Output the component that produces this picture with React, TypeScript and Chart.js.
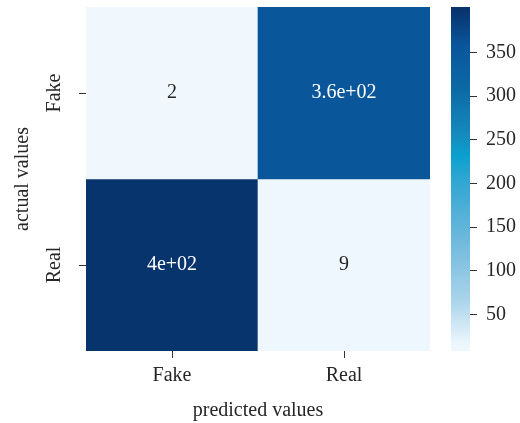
import React, { useEffect, useRef } from "react";
import { Chart, registerables } from "chart.js";

Chart.register(...registerables);

// ---- data ----
const PREDICTED = ["Fake", "Real"]; // columns (x)
const ACTUAL = ["Fake", "Real"]; // rows (y), top to bottom
const ROW_FAKE = [2, 357];
const ROW_REAL = [398, 9];
const MATRIX = [ROW_FAKE, ROW_REAL];
const CBAR_TICKS = [50, 100, 150, 200, 250, 300, 350];
const CBAR_RANGE = [8, 402];
const X_TITLE = "predicted values";
const Y_TITLE = "actual values";

// ---- colour map ----
const CMAP_STOPS: [number, string][] = [
  [0.0, "#F0F8FE"],
  [0.04, "#EBF5FC"],
  [0.16, "#AAD4EA"],
  [0.34, "#6DB8DC"],
  [0.52, "#2BA5D2"],
  [0.58, "#0AA0CF"],
  [0.64, "#168BBD"],
  [0.77, "#0B6AA6"],
  [0.9, "#0A559B"],
  [1.0, "#08346E"],
];

const hexToRgb = (h: string) => [
  parseInt(h.slice(1, 3), 16),
  parseInt(h.slice(3, 5), 16),
  parseInt(h.slice(5, 7), 16),
];

function cmap(t: number): number[] {
  t = Math.max(0, Math.min(1, t));
  for (let i = 1; i < CMAP_STOPS.length; i++) {
    const [t1, c1] = CMAP_STOPS[i];
    const [t0, c0] = CMAP_STOPS[i - 1];
    if (t <= t1) {
      const f = (t - t0) / (t1 - t0);
      const a = hexToRgb(c0);
      const b = hexToRgb(c1);
      return a.map((v, k) => Math.round(v + (b[k] - v) * f));
    }
  }
  return hexToRgb(CMAP_STOPS[CMAP_STOPS.length - 1][1]);
}
const rgbStr = (c: number[]) => `rgb(${c[0]},${c[1]},${c[2]})`;

function luminance(c: number[]) {
  const lin = c.map((v) => {
    const s = v / 255;
    return s <= 0.03928 ? s / 12.92 : Math.pow((s + 0.055) / 1.055, 2.4);
  });
  return 0.2126 * lin[0] + 0.7152 * lin[1] + 0.0722 * lin[2];
}

function fmt2g(v: number): string {
  if (v === 0) return "0";
  const ex = v.toExponential(1);
  const exp = Number(ex.split("e")[1]);
  if (exp < -4 || exp >= 2) {
    let [m, e] = ex.split("e");
    if (m.includes(".")) m = m.replace(/\.?0+$/, "");
    const sign = e[0] === "-" ? "-" : "+";
    const digits = e.replace(/[+-]/, "").padStart(2, "0");
    return `${m}e${sign}${digits}`;
  }
  let s = v.toFixed(Math.max(0, 1 - exp));
  if (s.includes(".")) s = s.replace(/\.?0+$/, "");
  return s;
}

const FONT = "'Liberation Serif', 'DejaVu Serif', serif";
const TEXT = "#262626";

export default function App() {
  const heatRef = useRef<HTMLCanvasElement>(null);
  const cbarRef = useRef<HTMLCanvasElement>(null);

  useEffect(() => {
    const flat = MATRIX.flat();
    const vmin = Math.min(...flat);
    const vmax = Math.max(...flat);
    const nRows = ACTUAL.length;
    const colorOf = (v: number) => cmap((v - vmin) / (vmax - vmin));

    const datasets = MATRIX.map((row, i) => {
      const y0 = nRows - 1 - i;
      return {
        label: ACTUAL[i],
        data: row.map(() => [y0, y0 + 1]),
        values: row,
        backgroundColor: row.map((v) => rgbStr(colorOf(v))),
        borderWidth: 0,
        grouped: false,
        categoryPercentage: 1,
        barPercentage: 1,
      };
    });

    const annotate = {
      id: "annotate",
      afterDatasetsDraw(chart: any) {
        const ctx = chart.ctx;
        ctx.save();
        ctx.font = `20px ${FONT}`;
        ctx.textAlign = "center";
        ctx.textBaseline = "middle";
        chart.data.datasets.forEach((ds: any, di: number) => {
          const meta = chart.getDatasetMeta(di);
          meta.data.forEach((el: any, j: number) => {
            const v = ds.values[j];
            const c = colorOf(v);
            ctx.fillStyle = luminance(c) > 0.408 ? TEXT : "#ffffff";
            ctx.fillText(fmt2g(v), el.x, (el.y + el.base) / 2);
          });
        });
        ctx.restore();
      },
    };

    const heat = new Chart(heatRef.current!, {
      type: "bar",
      data: { labels: PREDICTED, datasets: datasets as any },
      plugins: [annotate],
      options: {
        responsive: false,
        animation: false,
        events: [],
        layout: { padding: { top: 7, right: 15, left: 0, bottom: 0 } },
        plugins: { legend: { display: false }, tooltip: { enabled: false } },
        scales: {
          x: {
            type: "category",
            offset: true,
            border: { display: false },
            grid: {
              display: true,
              drawOnChartArea: false,
              drawTicks: true,
              tickLength: 7,
              offset: false,
              color: "#333333",
            },
            ticks: {
              color: TEXT,
              font: { family: FONT, size: 20 },
              padding: 6,
              maxRotation: 0,
              minRotation: 0,
            },
            title: {
              display: true,
              text: X_TITLE,
              color: TEXT,
              font: { family: FONT, size: 20 },
              padding: { top: 0, bottom: 0 },
            },
            afterFit(scale: any) {
              scale.height = 72;
              scale.paddingLeft = 0;
              scale.paddingRight = 0;
            },
          },
          y: {
            type: "linear",
            min: 0,
            max: nRows,
            border: { display: false },
            grid: {
              display: true,
              drawOnChartArea: false,
              drawTicks: true,
              tickLength: 7,
              color: "#333333",
            },
            afterBuildTicks(scale: any) {
              scale.ticks = ACTUAL.map((_, i) => ({ value: nRows - 1 - i + 0.5 }));
            },
            ticks: {
              color: TEXT,
              font: { family: FONT, size: 20 },
              padding: 5,
              minRotation: 90,
              maxRotation: 90,
              crossAlign: "center",
              callback: (value: any) => ACTUAL[nRows - 1 - Math.floor(Number(value))],
            },
            title: {
              display: true,
              text: Y_TITLE,
              color: TEXT,
              font: { family: FONT, size: 20 },
              padding: { top: 11, bottom: 0 },
            },
            afterFit(scale: any) {
              scale.width = 86;
              scale.paddingTop = 0;
              scale.paddingBottom = 0;
            },
          },
        },
      },
    } as any);

    const cbar = new Chart(cbarRef.current!, {
      type: "bar",
      data: {
        labels: ["cb"],
        datasets: [
          {
            data: [CBAR_RANGE as any],
            borderWidth: 0,
            categoryPercentage: 1,
            barPercentage: 1,
            backgroundColor: (c: any) => {
              const chart = c.chart;
              const area = chart.chartArea;
              if (!area) return "#ffffff";
              const ys = chart.scales.y;
              const g = chart.ctx.createLinearGradient(
                0,
                ys.getPixelForValue(vmin),
                0,
                ys.getPixelForValue(vmax)
              );
              for (let k = 0; k <= 50; k++) {
                const t = k / 50;
                g.addColorStop(t, rgbStr(cmap(t)));
              }
              return g;
            },
          },
        ],
      },
      options: {
        responsive: false,
        animation: false,
        events: [],
        layout: { padding: { top: 7, right: 0, left: 6, bottom: 72 } },
        plugins: { legend: { display: false }, tooltip: { enabled: false } },
        scales: {
          x: {
            display: false,
            offset: true,
            afterFit(scale: any) {
              scale.paddingLeft = 0;
              scale.paddingRight = 0;
            },
          },
          y: {
            type: "linear",
            position: "right",
            min: CBAR_RANGE[0],
            max: CBAR_RANGE[1],
            border: { display: false },
            grid: {
              display: true,
              drawOnChartArea: false,
              drawTicks: true,
              tickLength: 7,
              color: "#333333",
            },
            afterBuildTicks(scale: any) {
              scale.ticks = CBAR_TICKS.map((v) => ({ value: v }));
            },
            ticks: {
              color: TEXT,
              font: { family: FONT, size: 20 },
              padding: 9,
            },
            afterFit(scale: any) {
              scale.width = 50;
              scale.paddingTop = 0;
              scale.paddingBottom = 0;
            },
          },
        },
      },
    } as any);

    return () => {
      heat.destroy();
      cbar.destroy();
    };
  }, []);

  return (
    <div
      style={{
        position: "fixed",
        left: 0,
        top: 0,
        width: 520,
        height: 423,
        background: "#ffffff",
      }}
    >
      <canvas
        ref={heatRef}
        width={445}
        height={423}
        style={{ position: "absolute", left: 0, top: 0, width: 445, height: 423 }}
      />
      <canvas
        ref={cbarRef}
        width={75}
        height={423}
        style={{ position: "absolute", left: 445, top: 0, width: 75, height: 423 }}
      />
    </div>
  );
}
